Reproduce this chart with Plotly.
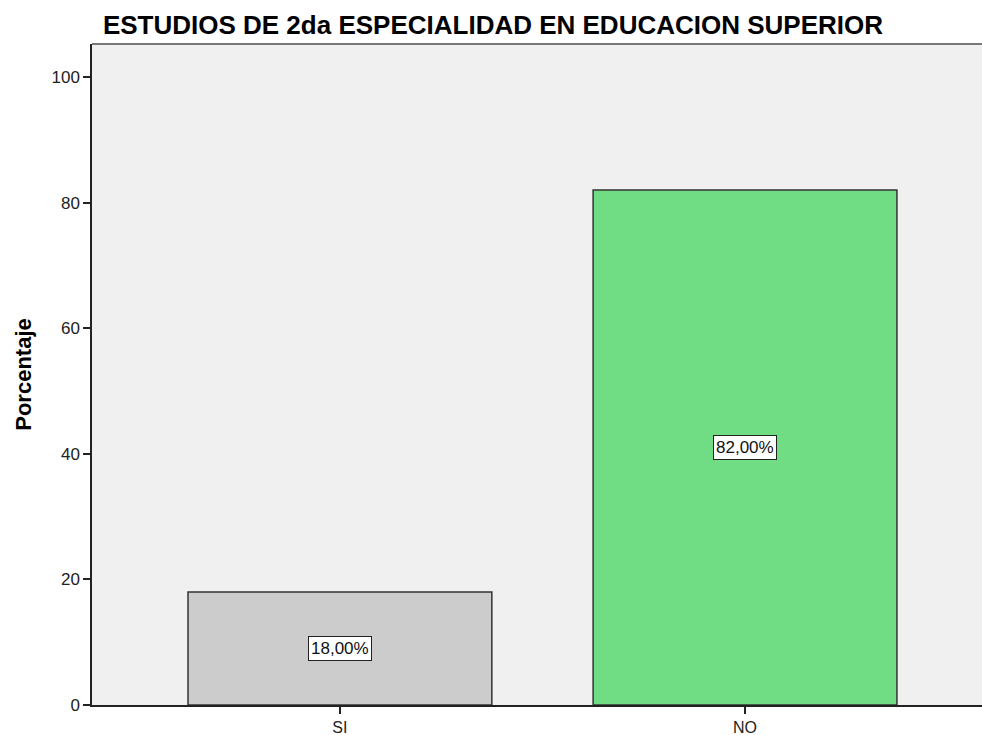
import plotly.graph_objects as go

categories = ["SI", "NO"]
values = [18.0, 82.0]
labels = ["18,00%", "82,00%"]
colors = ["#cccccc", "#70dc84"]
y_ticks = [0, 20, 40, 60, 80, 100]

FONT = "Liberation Sans, Arial, sans-serif"

fig = go.Figure()
fig.add_trace(go.Bar(
    x=[0, 1], y=values, width=0.75,
    marker=dict(color=colors, line=dict(color="#333333", width=1.5)),
    hoverinfo="skip",
))

for i, (v, lab) in enumerate(zip(values, labels)):
    fig.add_annotation(
        x=i, y=v / 2, text=lab, showarrow=False,
        font=dict(family=FONT, size=17, color="#111111"),
        bgcolor="white", bordercolor="#222222", borderwidth=1, borderpad=2,
    )

fig.update_layout(
    width=982, height=735,
    margin=dict(l=92, r=0, t=44, b=30),
    paper_bgcolor="white", plot_bgcolor="#f0f0f0",
    showlegend=False,
    title=dict(
        text="<b>ESTUDIOS DE 2da ESPECIALIDAD EN EDUCACION SUPERIOR</b>",
        x=0.502, xanchor="center", y=0.9667, yanchor="middle",
        font=dict(family=FONT, size=26, color="#000000"),
    ),
    xaxis=dict(
        range=[-0.612, 1.585], tickmode="array", tickvals=[0, 1], ticktext=categories,
        showgrid=False, zeroline=False, showline=True, linecolor="#222222", linewidth=1.5,
        ticks="outside", ticklen=7, tickcolor="#222222", tickwidth=1.5,
        tickfont=dict(family=FONT, size=16, color="#222222"),
    ),
    yaxis=dict(
        range=[0, 105.25], tickmode="array", tickvals=y_ticks,
        showgrid=False, zeroline=False, showline=True, linecolor="#222222", linewidth=1.5,
        ticks="outside", ticklen=7, tickcolor="#222222", tickwidth=1.5,
        tickfont=dict(family=FONT, size=17, color="#222222"),
        title=dict(text="<b>Porcentaje</b>", standoff=14,
                   font=dict(family=FONT, size=22, color="#000000")),
    ),
)

fig.add_shape(type="line", xref="paper", yref="paper", x0=0, x1=1, y0=1, y1=1,
              line=dict(color="#777777", width=2))

fig.write_html("out.html", config={"displayModeBar": False},
               post_script="document.body.style.margin='0px';")
